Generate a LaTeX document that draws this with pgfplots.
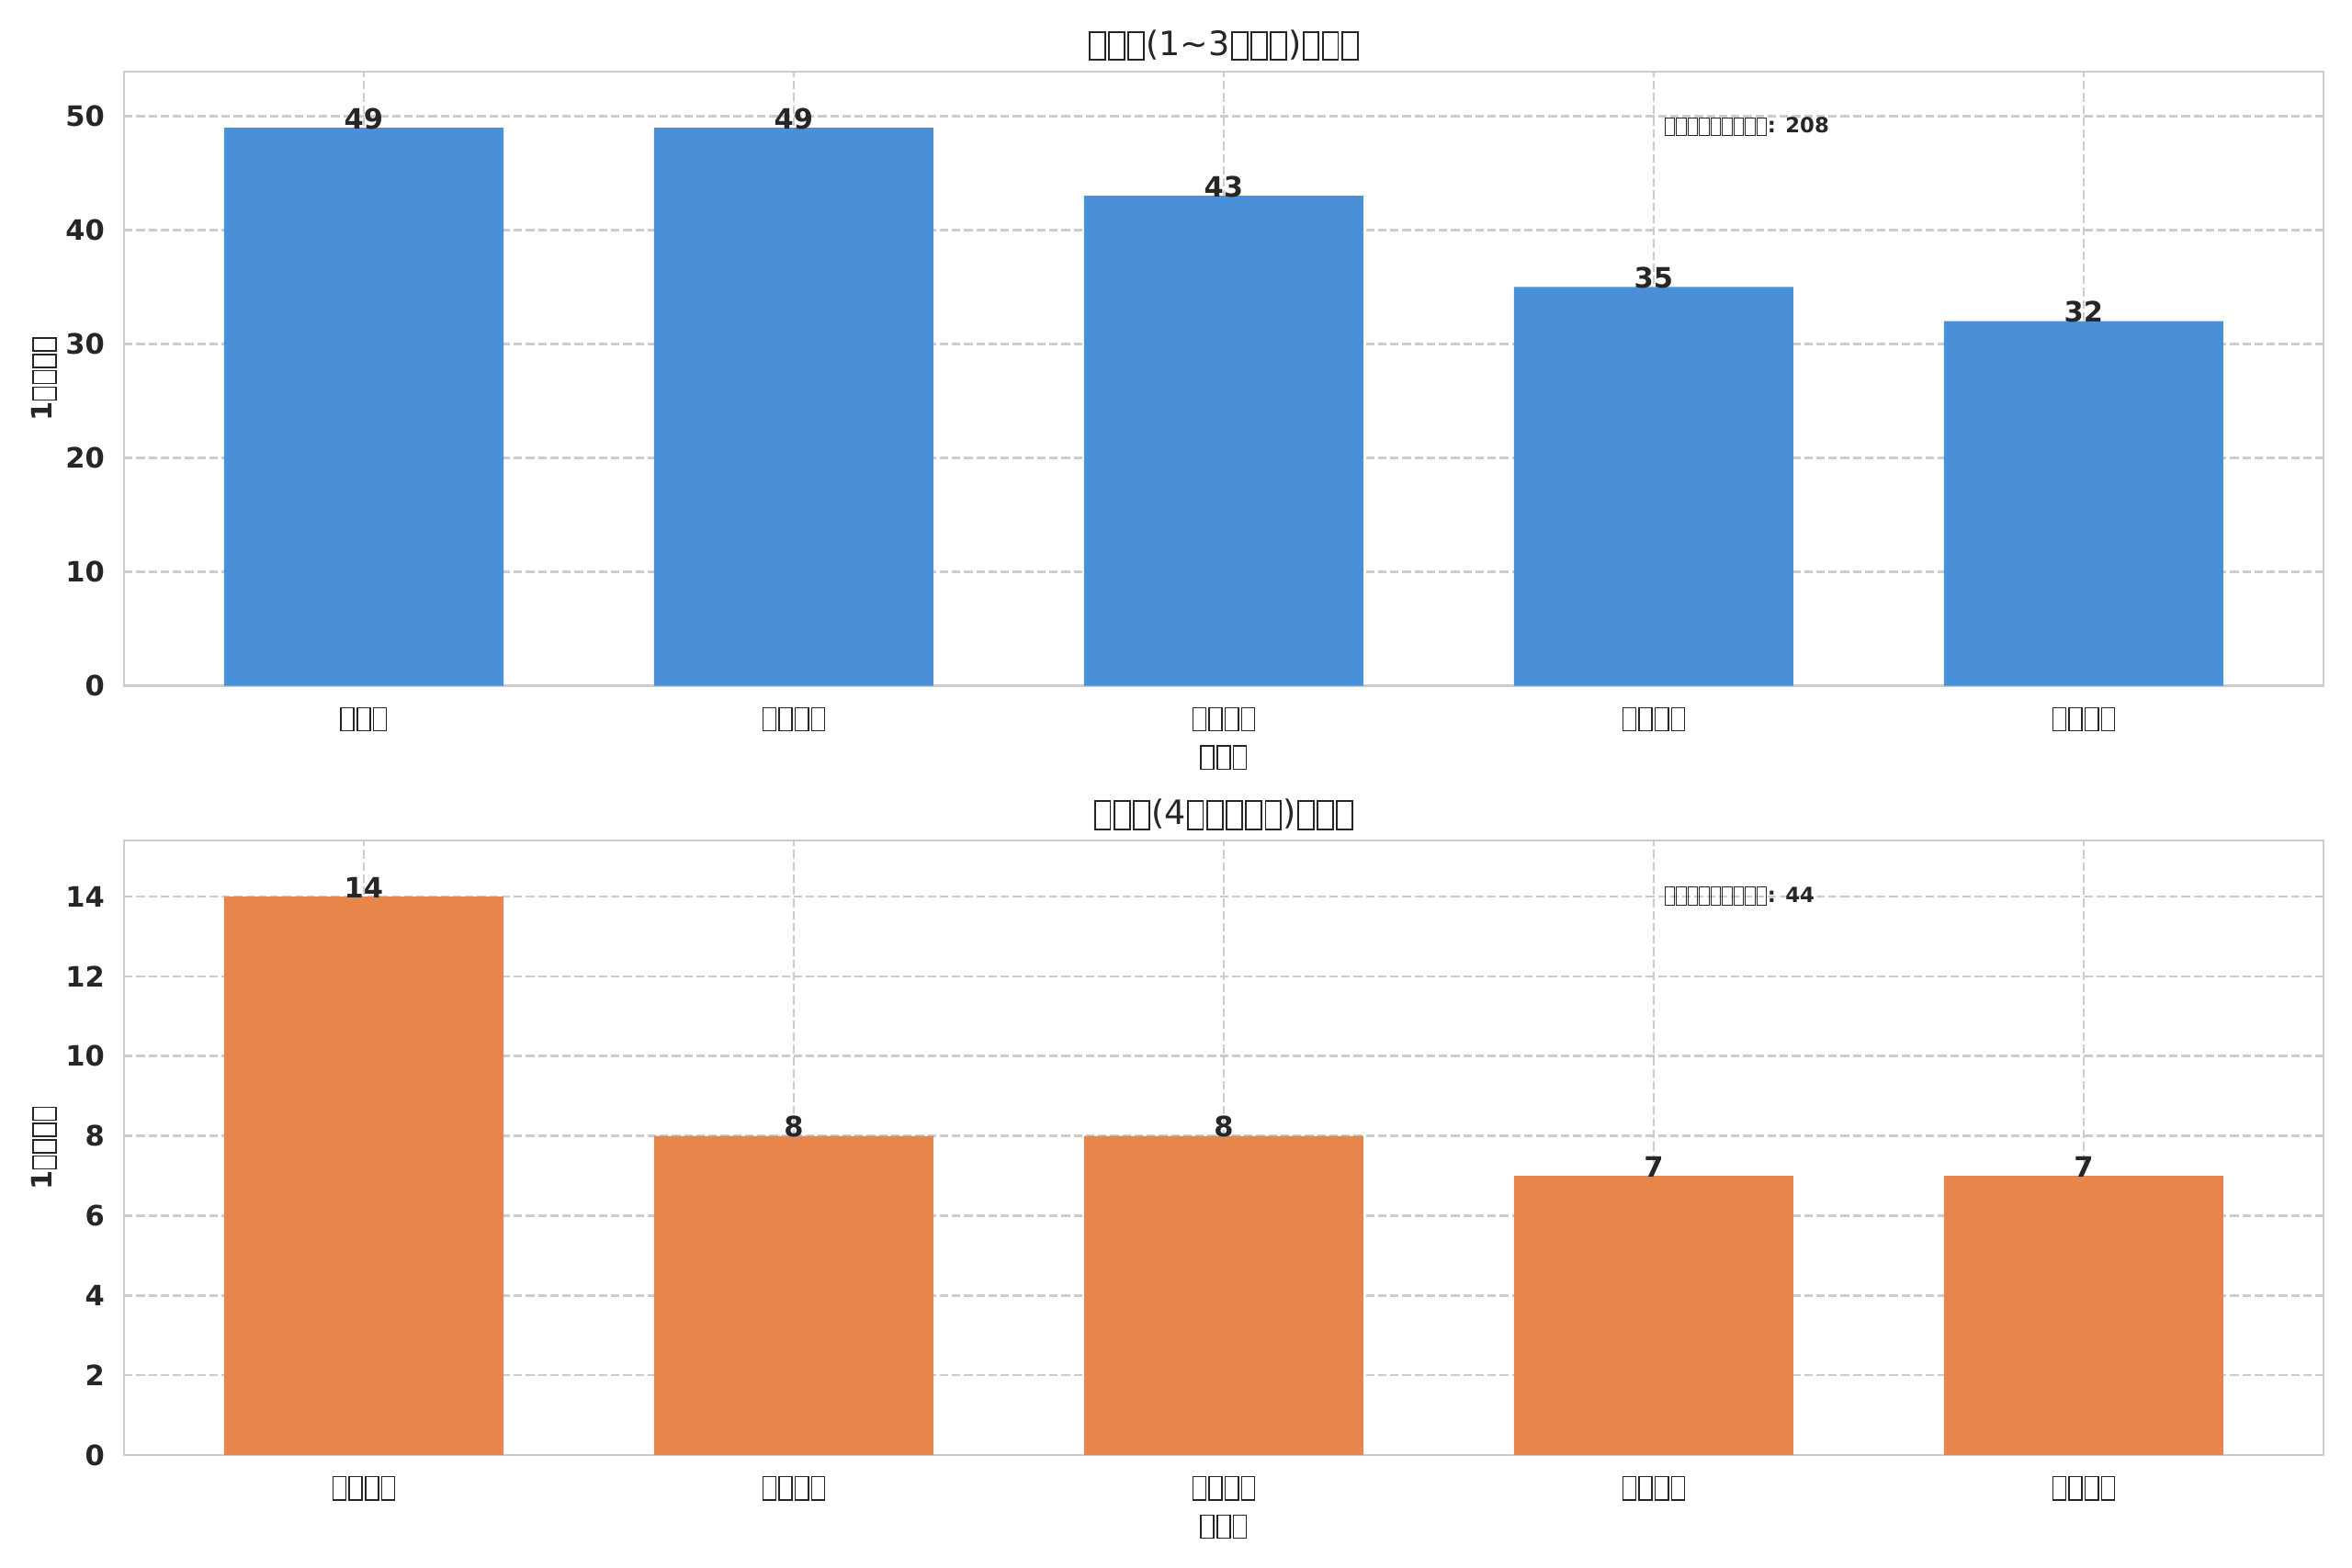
\documentclass[border=0pt]{standalone}
\usepackage{pgfplots}
\pgfplotsset{compat=1.18}
\usepackage{fontspec}
\setmainfont{DejaVu Sans}
\definecolor{txt}{HTML}{262626}
\definecolor{gridc}{HTML}{CCCCCC}
\definecolor{barblue}{HTML}{4A90D9}
\definecolor{barorange}{HTML}{E8854A}
\newcommand\tofu{\kern0.035em\raisebox{-0.11em}{\fboxsep=0pt\fboxrule=0.05em\fbox{\rule{0pt}{0.78em}\rule{0.41em}{0pt}}}\kern0.035em}
\newcommand\stofu{\kern0.02em\raisebox{-0.11em}{\fboxsep=0pt\fboxrule=0.05em\fbox{\rule{0pt}{0.8em}\rule{0.41em}{0pt}}}\kern0.02em}
\newcommand\tIII{\tofu\tofu\tofu}
\newcommand\tIV{\tofu\tofu\tofu\tofu}
\newcommand\sIX{\stofu\stofu\stofu\stofu\stofu\stofu\stofu\stofu\stofu}
\newcommand\fs[1]{\fontsize{#1bp}{#1bp}\selectfont}
\tikzset{note/.style={anchor=base west, inner sep=0pt, font=\bfseries\fs{9.1}, text=txt}}
\pgfplotsset{
  common/.style={
    scale only axis, width=957.5bp, height=267.5bp, anchor=south west,
    xmin=-0.5575, xmax=4.5575, ymin=0,
    xtick={0,1,2,3,4},
    ybar, bar width=0.65,
    grid=major,
    major grid style={gridc, line width=1bp, dash pattern=on 3.7bp off 1.6bp},
    axis line style={gridc, line width=1bp},
    major tick length=0pt, tick style={draw=none},
    scaled y ticks=false,
    /pgf/number format/assume math mode=true,
    yticklabel style={font=\bfseries\fs{12.2}, text=txt, anchor=east, inner sep=0pt, xshift=-8.3bp},
    xticklabel style={font=\fs{12.2}, text=txt, anchor=base, inner sep=0pt, yshift=-17.9bp},
    every axis x label/.style={at={(axis description cs:0.5,0)}, anchor=base, yshift=-34.6bp, inner sep=0pt, font=\fs{12.2}, text=txt},
    every axis y label/.style={at={(axis description cs:-0.03259,0.5)}, rotate=90, anchor=base, inner sep=0pt, font=\bfseries\fs{12.2}, text=txt},
    every axis title/.style={at={(axis description cs:0.5,1)}, anchor=base, yshift=7bp, inner sep=0pt, font=\fs{14.6}, text=txt},
    nodes near coords,
    every node near coord/.append style={anchor=base, inner sep=0pt, yshift=-0.5bp, font=\bfseries\fs{12.2}, text=txt},
  },
}
\begin{document}
\begin{tikzpicture}
\path[use as bounding box] (0,0) rectangle (1024bp,682.8bp);
\begin{axis}[common, at={(54bp,384.1bp)},
  ymax=53.9, ytick={0,10,20,30,40,50},
  title={\tIII(1\textasciitilde 3\tIII)\tIII},
  xlabel={\tIII}, ylabel={1\tIV},
  xticklabels={\tIII,\tIV,\tIV,\tIV,\tIV}]
\addplot[fill=barblue, draw=none] coordinates {(0,49) (1,49) (2,43) (3,35) (4,32)};
\node[note] at (rel axis cs:0.7,0.9) {\sIX: 208};
\end{axis}
\begin{axis}[common, at={(54bp,49.2bp)},
  ymax=15.4, ytick={0,2,4,6,8,10,12,14},
  title={\tIII(4\tofu\tofu\tofu\tofu\tofu)\tIII},
  xlabel={\tIII}, ylabel={1\tIV},
  xticklabels={\tIV,\tIV,\tIV,\tIV,\tIV}]
\addplot[fill=barorange, draw=none] coordinates {(0,14) (1,8) (2,8) (3,7) (4,7)};
\node[note] at (rel axis cs:0.7,0.9) {\sIX: 44};
\end{axis}
\end{tikzpicture}
\end{document}
